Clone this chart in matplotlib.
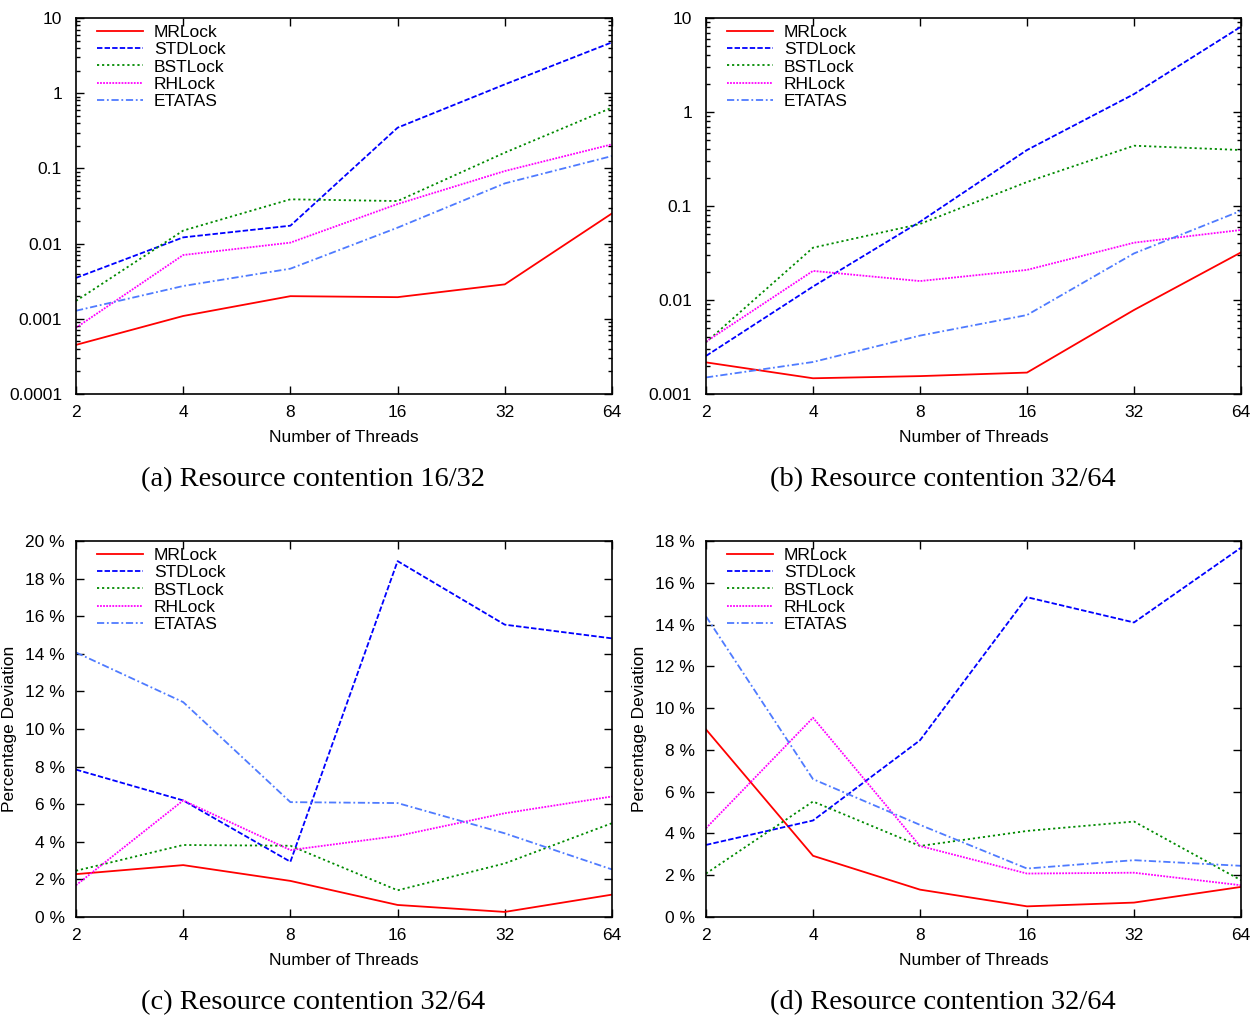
import matplotlib
matplotlib.use('Agg')
import matplotlib.pyplot as plt
from matplotlib.ticker import FixedLocator, FixedFormatter, NullLocator, LogLocator, NullFormatter

plt.rcParams['font.family'] = ['Liberation Sans', 'DejaVu Sans']

threads = [2, 4, 8, 16, 32, 64]
thread_labels = ['2', '4', '8', '16', '32', '64']
locks = ['MRLock', 'STDLock', 'BSTLock', 'RHLock', 'ETATAS']

# (a) resource contention 16/32, log scale
a_mr  = [4.5e-4, 1.09e-3, 2.0e-3, 1.94e-3, 2.87e-3, 0.0252]
a_std = [3.5e-3, 0.0121, 0.0173, 0.348, 1.31, 4.75]
a_bst = [1.73e-3, 0.0149, 0.0388, 0.0368, 0.162, 0.643]
a_rh  = [7.6e-4, 7.05e-3, 0.0103, 0.0336, 0.0922, 0.209]
a_eta = [1.28e-3, 2.73e-3, 4.64e-3, 0.0163, 0.0632, 0.146]

# (b) resource contention 32/64, log scale
b_mr  = [2.17e-3, 1.47e-3, 1.55e-3, 1.69e-3, 7.83e-3, 0.0321]
b_std = [2.54e-3, 0.0139, 0.068, 0.394, 1.55, 8.09]
b_bst = [3.55e-3, 0.036, 0.0644, 0.18, 0.438, 0.394]
b_rh  = [3.6e-3, 0.0204, 0.0159, 0.0209, 0.0407, 0.0556]
b_eta = [1.5e-3, 2.19e-3, 4.18e-3, 6.92e-3, 0.0313, 0.089]

# (c) percentage deviation
c_mr  = [2.28, 2.76, 1.92, 0.64, 0.27, 1.19]
c_std = [7.84, 6.2, 2.94, 18.93, 15.55, 14.82]
c_bst = [2.46, 3.83, 3.79, 1.42, 2.85, 4.99]
c_rh  = [1.69, 6.2, 3.56, 4.31, 5.52, 6.41]
c_eta = [14.07, 11.43, 6.11, 6.06, 4.45, 2.53]

# (d) percentage deviation
d_mr  = [8.98, 2.93, 1.31, 0.51, 0.69, 1.44]
d_std = [3.45, 4.62, 8.46, 15.31, 14.1, 17.68]
d_bst = [2.08, 5.53, 3.4, 4.12, 4.57, 1.76]
d_rh  = [4.25, 9.54, 3.4, 2.08, 2.12, 1.52]
d_eta = [14.39, 6.6, 4.41, 2.32, 2.72, 2.45]

a_yticks = [1e-4, 1e-3, 1e-2, 1e-1, 1, 10]
a_ylabels = ['0.0001', '0.001', '0.01', '0.1', '1', '10']
b_yticks = [1e-3, 1e-2, 1e-1, 1, 10]
b_ylabels = ['0.001', '0.01', '0.1', '1', '10']
c_yticks = list(range(0, 21, 2))
d_yticks = list(range(0, 19, 2))

captions = ['(a) Resource contention 16/32', '(b) Resource contention 32/64',
            '(c) Resource contention 32/64', '(d) Resource contention 32/64']

colors = ['#ff0000', '#0000ff', '#008a00', '#ff00ff', '#4f7bff']
styles = ['-', (0, (3, 1.2)), (0, (1.2, 1.6)), (0, (1, 0.7)), (0, (4, 1.5, 1, 1.5))]

W, H = 1260, 1017
fig = plt.figure(figsize=(W / 100, H / 100), dpi=100)


def make_axes(x0, y0, x1, y1):
    return fig.add_axes([x0 / W, 1 - y1 / H, (x1 - x0) / W, (y1 - y0) / H])


def style_axes(ax, yticks, ylabels, ylim, log=False):
    ax.set_xscale('log', base=2)
    ax.set_xlim(2, 64)
    ax.xaxis.set_major_locator(FixedLocator(threads))
    ax.xaxis.set_major_formatter(FixedFormatter(thread_labels))
    ax.xaxis.set_minor_locator(NullLocator())
    if log:
        ax.set_yscale('log')
        ax.yaxis.set_minor_locator(LogLocator(base=10, subs=range(2, 10)))
        ax.yaxis.set_minor_formatter(NullFormatter())
    ax.set_ylim(*ylim)
    ax.yaxis.set_major_locator(FixedLocator(yticks))
    ax.yaxis.set_major_formatter(FixedFormatter(ylabels))
    ax.tick_params(which='both', direction='in', top=True, right=True,
                   labelsize=12.5, width=1.0)
    ax.tick_params(which='major', length=6)
    ax.tick_params(axis='x', which='major', pad=8)
    ax.tick_params(axis='y', which='major', pad=10 if log else 8)
    ax.tick_params(which='minor', length=3)
    for s in ax.spines.values():
        s.set_linewidth(1.2)
    ax.set_xlabel('Number of Threads', fontsize=12.5, labelpad=7)


def draw(ax, series):
    for name, vals, c, ls in zip(locks, series, colors, styles):
        ax.plot(threads, vals, color=c, linestyle=ls, linewidth=1.3, label=name)
    ax.legend(loc='upper left', frameon=False, fontsize=12.5, handlelength=2.65,
              handletextpad=0.63, labelspacing=0.12, borderaxespad=0.0,
              bbox_to_anchor=(0.026, 1.0))


ax_a = make_axes(76, 18, 612, 394)
draw(ax_a, [a_mr, a_std, a_bst, a_rh, a_eta])
style_axes(ax_a, a_yticks, a_ylabels, (1e-4, 10), log=True)

ax_b = make_axes(706, 18, 1241, 394)
draw(ax_b, [b_mr, b_std, b_bst, b_rh, b_eta])
style_axes(ax_b, b_yticks, b_ylabels, (1e-3, 10), log=True)

ax_c = make_axes(76, 541, 612, 917)
draw(ax_c, [c_mr, c_std, c_bst, c_rh, c_eta])
style_axes(ax_c, c_yticks, [f'{v} %' for v in c_yticks], (0, 20))
ax_c.set_ylabel('Percentage Deviation', fontsize=12.5, labelpad=6)

ax_d = make_axes(706, 541, 1241, 917)
draw(ax_d, [d_mr, d_std, d_bst, d_rh, d_eta])
style_axes(ax_d, d_yticks, [f'{v} %' for v in d_yticks], (0, 18))
ax_d.set_ylabel('Percentage Deviation', fontsize=12.5, labelpad=6)

for ax, cap in zip([ax_a, ax_b, ax_c, ax_d], captions):
    ax.text(0.442, -0.229, cap, transform=ax.transAxes, ha='center', va='center',
            fontsize=20.5, family=['Liberation Serif', 'DejaVu Serif'])

fig.savefig('out.png', dpi=100)
